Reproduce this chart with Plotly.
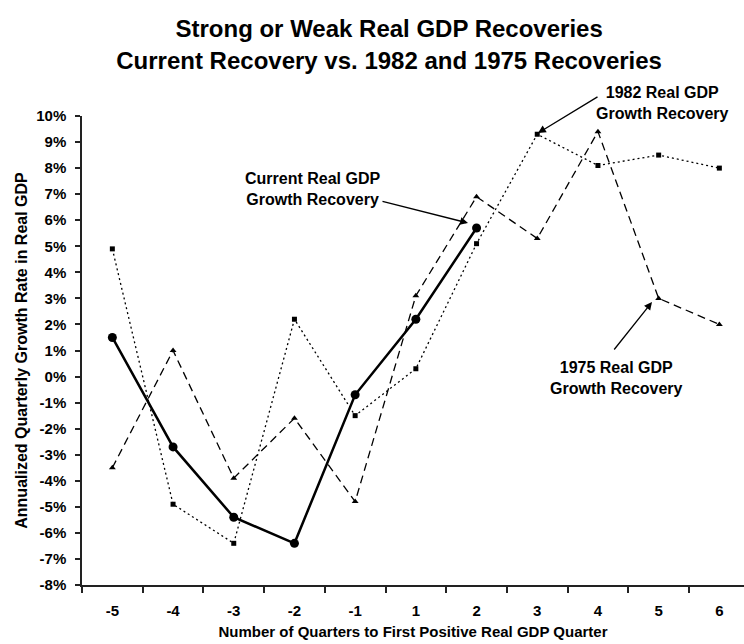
import plotly.graph_objects as go

quarters = ["-5", "-4", "-3", "-2", "-1", "1", "2", "3", "4", "5", "6"]
current = [1.5, -2.7, -5.4, -6.4, -0.7, 2.2, 5.7]
rec_1982 = [4.9, -4.9, -6.4, 2.2, -1.5, 0.3, 5.1, 9.3, 8.1, 8.5, 8.0]
rec_1975 = [-3.5, 1.0, -3.9, -1.6, -4.8, 3.1, 6.9, 5.3, 9.4, 3.0, 2.0]
y_ticks = [-8, -7, -6, -5, -4, -3, -2, -1, 0, 1, 2, 3, 4, 5, 6, 7, 8, 9, 10]
y_tick_text = ["-8%", "-7%", "-6%", "-5%", "-4%", "-3%", "-2%", "-1%", "0%", "1%",
               "2%", "3%", "4%", "5%", "6%", "7%", "8%", "9%", "10%"]

FONT = "Liberation Sans, Arial, sans-serif"

fig = go.Figure()
fig.add_trace(go.Scatter(
    x=quarters, y=rec_1982, mode="lines+markers", name="1982",
    line=dict(color="black", width=1.3, dash="2px,3px"),
    marker=dict(symbol="square", size=5, color="black")))
fig.add_trace(go.Scatter(
    x=quarters, y=rec_1975, mode="lines+markers", name="1975",
    line=dict(color="black", width=1.3, dash="8px,5px"),
    marker=dict(symbol="triangle-up", size=6, color="black")))
fig.add_trace(go.Scatter(
    x=quarters[:len(current)], y=current, mode="lines+markers", name="Current",
    line=dict(color="black", width=2.5),
    marker=dict(symbol="circle", size=9, color="black")))

W, H = 744, 644
L, T, B = 82, 116, 59
plot_w = W - L
plot_h = H - T - B


def px(xp):
    return (xp - L) / plot_w


def py(yp):
    return (H - B - yp) / plot_h


annos = []
labels = [
    ("Current Real GDP<br>Growth Recovery", 312, 189),
    ("1982 Real GDP<br>Growth Recovery", 662, 103),
    ("1975 Real GDP<br>Growth Recovery", 616, 378),
]
for txt, xx, yy in labels:
    annos.append(dict(text=txt, xref="paper", yref="paper", x=px(xx), y=py(yy),
                      xanchor="center", yanchor="middle", showarrow=False, align="center",
                      font=dict(family=FONT, size=16, color="black", weight="bold")))
arrows = [((468, 223), (381, 201)), ((538, 133), (599, 96)), ((652, 302), (613, 351))]
for (hx, hy), (tx, ty) in arrows:
    annos.append(dict(text="", xref="paper", yref="paper", x=px(hx), y=py(hy),
                      ax=tx - hx, ay=ty - hy, showarrow=True, arrowhead=2,
                      arrowsize=1.2, arrowwidth=1.3, arrowcolor="black"))

fig.update_layout(
    width=W, height=H,
    margin=dict(l=L, r=0, t=T, b=B, pad=0),
    paper_bgcolor="white", plot_bgcolor="white",
    showlegend=False,
    title=dict(text="Strong or Weak Real GDP Recoveries<br>Current Recovery vs. 1982 and 1975 Recoveries",
               x=0.523, xref="container", xanchor="center",
               y=0.942, yref="container", yanchor="top",
               font=dict(family=FONT, size=24, color="black", weight="bold")),
    annotations=annos,
)
fig.update_xaxes(
    type="category", categoryorder="array", categoryarray=quarters,
    range=[-0.5, 10.406], showgrid=False, zeroline=False,
    showline=True, linecolor="#222", linewidth=1.5,
    ticks="outside", tickson="boundaries", ticklen=6, tickcolor="#222", tickwidth=1.5,
    tickfont=dict(family=FONT, size=15, color="black", weight="bold"),
    ticklabelstandoff=11,
    title=dict(text="Number of Quarters to First Positive Real GDP Quarter", standoff=9,
               font=dict(family=FONT, size=15, color="black", weight="bold")),
)
fig.update_yaxes(
    range=[-8, 10], tickmode="array", tickvals=y_ticks, ticktext=y_tick_text,
    showgrid=False, zeroline=False,
    showline=True, linecolor="#222", linewidth=1.5,
    ticks="outside", ticklen=5, tickcolor="#222", tickwidth=1.5,
    tickfont=dict(family=FONT, size=15, color="black", weight="bold"),
    ticklabelstandoff=6,
    title=dict(text="Annualized Quarterly Growth Rate in Real GDP", standoff=5,
               font=dict(family=FONT, size=16, color="black", weight="bold")),
)
fig.write_html("out.html")
